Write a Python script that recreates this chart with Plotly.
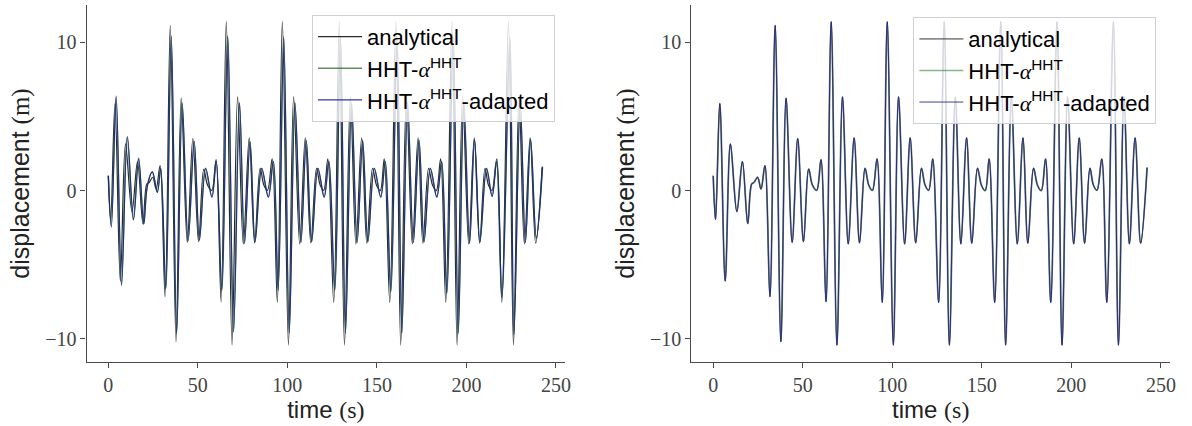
import plotly.graph_objects as go

# Analytical displacement: turning points (time in s, displacement in m)
t_analytical = [
    0.0, 1.3, 3.7, 6.7, 9.6, 13.2, 16.3, 19.3, 21.5, 22.8, 24.8, 26.7, 28.9,
    31.7, 34.6, 37.8, 40.7, 44.1, 47.2, 50.4, 53.3, 55.4, 57.8, 60.2,
    63.0, 65.9, 69.1, 72.2, 75.4, 78.7, 81.7, 84.8, 86.9, 88.9, 91.5,
    94.4, 97.2, 100.6, 103.5, 106.9, 110.0, 113.1, 116.3, 118.3, 120.3, 122.6,
    125.9, 129.0, 131.9, 135.2, 138.3, 141.5, 144.4, 147.6, 149.8, 151.9, 154.1,
    157.2, 160.6, 163.3, 166.5, 169.8, 173.0, 175.7, 178.9, 181.1, 183.2, 185.6,
    188.5, 192.0, 194.8, 197.9, 201.3, 204.4, 207.4, 210.4, 212.3, 214.3, 217.0,
    219.8, 223.5, 226.3, 229.4, 232.4, 235.6, 238.7, 242.3,
]
u_analytical = [
    1.0, -1.94, 5.88, -6.1, 3.15, -1.42, 1.96, -2.23, 0.45, 0.55, 0.9, 0.1, 1.69,
    -7.16, 11.15, -10.2, 6.24, -3.49, 3.51, -3.45, 1.46, 0.38, 0.02, 2.09,
    -7.5, 11.4, -10.43, 6.33, -3.6, 3.56, -3.53, 1.51, 0.36, 0.02, 2.14,
    -7.55, 11.4, -10.43, 6.33, -3.6, 3.56, -3.53, 1.51, 0.38, 0.02, 2.14,
    -7.55, 11.4, -10.43, 6.33, -3.6, 3.56, -3.55, 1.51, 0.36, 0.0, 2.14,
    -7.55, 11.4, -10.43, 6.33, -3.6, 3.56, -3.55, 1.51, 0.36, 0.0, 2.14,
    -7.55, 11.4, -10.43, 6.33, -3.6, 3.56, -3.55, 1.51, 0.38, 0.02, 2.14,
    -7.55, 11.4, -10.43, 6.33, -3.6, 3.56, -3.55, 1.55,
]

# HHT-alpha with the standard parameter (coarse step)
t_hht = [
    0.0, 1.6, 4.3, 7.3, 10.5, 13.9, 16.8, 19.7, 21.7, 24.5, 27.3, 29.2,
    32.0, 35.1, 38.1, 41.2, 44.5, 47.9, 50.8, 54.2, 57.8, 60.2,
    63.3, 66.6, 69.9, 73.2, 76.0, 79.1, 81.9, 85.6, 89.3, 92.1,
    94.8, 97.9, 101.0, 104.2, 107.5, 110.5, 113.5, 117.0, 120.5, 123.1,
    126.4, 129.6, 132.4, 135.8, 138.9, 142.0, 144.9, 148.5, 152.1, 154.6,
    157.7, 161.2, 163.9, 167.1, 170.3, 173.5, 176.3, 179.8, 183.4, 186.1,
    189.0, 192.6, 195.4, 198.5, 201.7, 204.5, 207.5, 211.2, 214.3, 216.8,
    219.8, 224.2, 226.5, 230.0, 232.9, 235.8, 239.0, 242.5,
]
u_hht = [
    1.0, -2.4, 6.3, -6.35, 3.6, -1.95, 2.15, -2.25, 0.3, 1.25, -0.1, 1.5,
    -6.65, 10.45, -9.65, 5.95, -3.4, 3.33, -3.35, 1.5, -0.42, 1.97,
    -6.75, 10.45, -9.55, 5.95, -3.55, 3.32, -3.45, 1.5, -0.42, 1.97,
    -6.75, 10.4, -9.65, 5.95, -3.5, 3.4, -3.45, 1.5, -0.42, 1.97,
    -6.75, 10.4, -9.65, 5.95, -3.5, 3.4, -3.45, 1.5, -0.42, 1.97,
    -6.85, 10.4, -9.65, 5.95, -3.5, 3.42, -3.45, 1.5, -0.42, 1.97,
    -6.95, 10.35, -9.65, 5.95, -3.55, 3.45, -3.45, 1.5, -0.38, 1.97,
    -7.2, 10.35, -9.75, 5.95, -3.5, 3.47, -3.25, 1.6,
]

# HHT-alpha with the adapted parameter (coarse step)
t_adapted = [
    0.0, 1.7, 4.4, 7.4, 10.7, 14.1, 17.0, 19.8, 21.8, 24.6, 27.4, 29.3,
    32.1, 35.2, 38.2, 41.3, 44.6, 48.0, 50.9, 54.4, 57.9, 60.3,
    63.4, 66.7, 70.0, 73.3, 76.1, 79.2, 82.0, 85.7, 89.4, 92.2,
    94.9, 98.0, 101.1, 104.3, 107.6, 110.6, 113.6, 117.1, 120.6, 123.2,
    126.5, 129.7, 132.5, 135.9, 139.0, 142.1, 145.0, 148.6, 152.2, 154.7,
    157.8, 161.3, 164.0, 167.2, 170.4, 173.6, 176.4, 179.9, 183.5, 186.2,
    189.1, 192.7, 195.5, 198.6, 201.8, 204.6, 207.6, 211.3, 214.4, 216.9,
    219.9, 224.3, 226.6, 230.1, 233.0, 235.9, 239.1, 242.5,
]
u_adapted = [
    1.0, -2.47, 6.39, -6.41, 3.65, -1.98, 2.19, -2.27, 0.3, 1.28, -0.13, 1.51,
    -6.6, 10.4, -9.62, 5.9, -3.37, 3.31, -3.33, 1.51, -0.45, 1.96,
    -6.7, 10.4, -9.5, 5.9, -3.55, 3.3, -3.45, 1.51, -0.45, 1.96,
    -6.7, 10.35, -9.6, 5.9, -3.5, 3.38, -3.45, 1.51, -0.45, 1.96,
    -6.7, 10.35, -9.6, 5.9, -3.5, 3.38, -3.45, 1.51, -0.45, 1.96,
    -6.8, 10.35, -9.6, 5.9, -3.5, 3.4, -3.45, 1.51, -0.45, 1.96,
    -6.9, 10.3, -9.6, 5.9, -3.55, 3.45, -3.45, 1.51, -0.4, 1.96,
    -7.2, 10.3, -9.7, 5.9, -3.5, 3.47, -3.2, 1.62,
]

# Fine-step runs coincide with the analytical solution
t_hht_fine, u_hht_fine = t_analytical, u_analytical
t_adapted_fine, u_adapted_fine = t_analytical, u_analytical

x_ticks = [0, 50, 100, 150, 200, 250]
y_ticks = [-10, 0, 10]

SERIF = "Liberation Serif"
SANS = "Liberation Sans"
ALPHA = f"<span style='font-family:{SERIF}'><i>α</i></span>"
names = [
    "analytical",
    f"HHT-{ALPHA}<sup>HHT</sup>",
    f"HHT-{ALPHA}<sup>HHT</sup>-adapted",
]

fig = go.Figure()

line_kw = dict(shape="spline", smoothing=1.0)

# left panel: coarse step
fig.add_trace(go.Scatter(x=t_analytical, y=u_analytical, mode="lines", name=names[0],
                         line=dict(color="rgba(20,20,20,0.9)", width=1.2, **line_kw),
                         xaxis="x", yaxis="y", legend="legend"))
fig.add_trace(go.Scatter(x=t_hht, y=u_hht, mode="lines", name=names[1],
                         line=dict(color="rgba(40,110,40,0.75)", width=1.6, **line_kw),
                         xaxis="x", yaxis="y", legend="legend"))
fig.add_trace(go.Scatter(x=t_adapted, y=u_adapted, mode="lines", name=names[2],
                         line=dict(color="rgba(30,30,150,0.9)", width=1.1, **line_kw),
                         xaxis="x", yaxis="y", legend="legend"))

# right panel: fine step
fig.add_trace(go.Scatter(x=t_analytical, y=u_analytical, mode="lines", name=names[0],
                         line=dict(color="rgba(60,60,60,0.6)", width=1.8, **line_kw),
                         xaxis="x2", yaxis="y2", legend="legend2"))
fig.add_trace(go.Scatter(x=t_hht_fine, y=u_hht_fine, mode="lines", name=names[1],
                         line=dict(color="rgba(60,130,60,0.6)", width=1.4, **line_kw),
                         xaxis="x2", yaxis="y2", legend="legend2"))
fig.add_trace(go.Scatter(x=t_adapted_fine, y=u_adapted_fine, mode="lines", name=names[2],
                         line=dict(color="rgba(30,30,130,0.85)", width=1.0, **line_kw),
                         xaxis="x2", yaxis="y2", legend="legend2"))

axis_common = dict(
    showline=True, linecolor="#4a4a4a", linewidth=1.2,
    ticks="outside", ticklen=5, tickwidth=1.2, tickcolor="#4a4a4a",
    showgrid=False, zeroline=False, mirror=False,
    tickfont=dict(family=SERIF, size=20, color="#444444"),
)
x_common = dict(axis_common, range=[-12.15, 255.15], tickvals=x_ticks,
                title=dict(text=f"time <span style='font-family:{SERIF}'>(s)</span>",
                           font=dict(family=SANS, size=24, color="#222222"), standoff=4))
y_common = dict(axis_common, range=[-11.57, 12.53], tickvals=y_ticks,
                title=dict(text=f"displacement <span style='font-family:{SERIF}'>(m)</span>",
                           font=dict(family=SANS, size=25, color="#222222"), standoff=8))

legend_common = dict(
    bgcolor="rgba(255,255,255,0.8)", bordercolor="#d0d0d0", borderwidth=1,
    font=dict(family=SANS, size=22, color="#000000"),
    xanchor="right", yanchor="top", itemwidth=44, tracegroupgap=0,
)

fig.update_layout(
    width=1192, height=426,
    margin=dict(l=0, r=0, t=0, b=0),
    paper_bgcolor="white", plot_bgcolor="white",
    xaxis=dict(x_common, domain=[0.0730, 0.4765], anchor="y"),
    yaxis=dict(y_common, domain=[0.1502, 0.9883], anchor="x"),
    xaxis2=dict(x_common, domain=[0.5830, 0.9866], anchor="y2"),
    yaxis2=dict(y_common, domain=[0.1502, 0.9883], anchor="x2"),
    legend=dict(legend_common, x=0.468, y=0.965),
    legend2=dict(legend_common, x=0.975, y=0.960),
)

fig.write_html("out.html")
